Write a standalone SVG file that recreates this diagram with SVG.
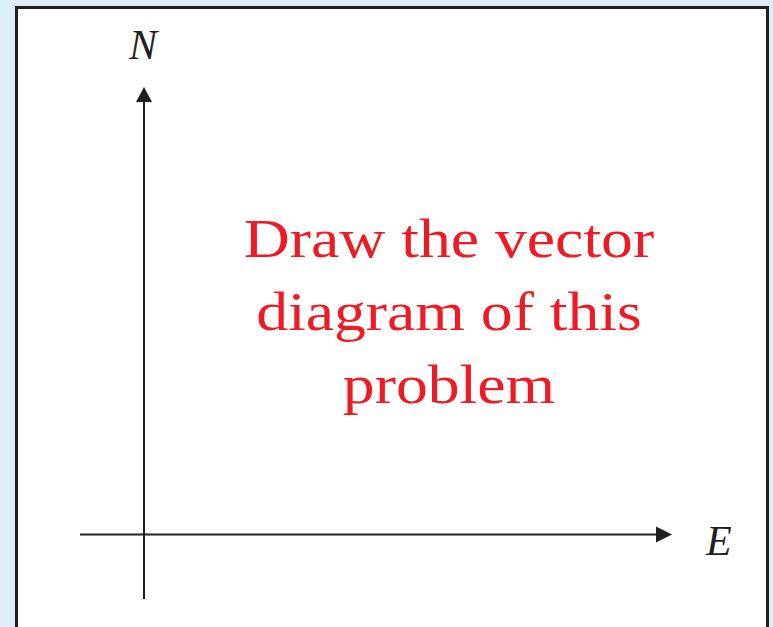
<svg xmlns="http://www.w3.org/2000/svg" width="773" height="627" viewBox="0 0 773 627">
<style>
.axis{stroke:#231f20;stroke-width:2;fill:none}
.head{fill:#231f20}
.lbl{font-family:"Liberation Serif","Times New Roman",serif;font-style:italic;font-size:42px;fill:#231f20}
.red{font-family:"Liberation Serif","Times New Roman",serif;font-size:54px;fill:#ed1c24;text-anchor:middle}
</style>
<rect x="0" y="0" width="773" height="627" fill="#ddeff6"/>
<rect x="16.5" y="7.5" width="751" height="640" fill="#ffffff" stroke="#231f20" stroke-width="3"/>
<g id="connectors">
<line class="axis" x1="144" y1="599" x2="144" y2="100"/>
<polygon class="head" points="144,87 136,102 152,102"/>
<line class="axis" x1="80" y1="534.5" x2="658" y2="534.5"/>
<polygon class="head" points="672,534.5 656,526.5 656,542.5"/>
</g>
<g id="label-N"><text class="lbl" x="129" y="59">N</text></g>
<g id="label-E"><text class="lbl" x="706" y="555">E</text></g>
<g id="note" transform="scale(1.18 1)">
<text class="red" x="380.5" y="257">Draw the vector</text>
<text class="red" x="380.5" y="330">diagram of this</text>
<text class="red" x="380.5" y="403">problem</text>
</g>
</svg>
